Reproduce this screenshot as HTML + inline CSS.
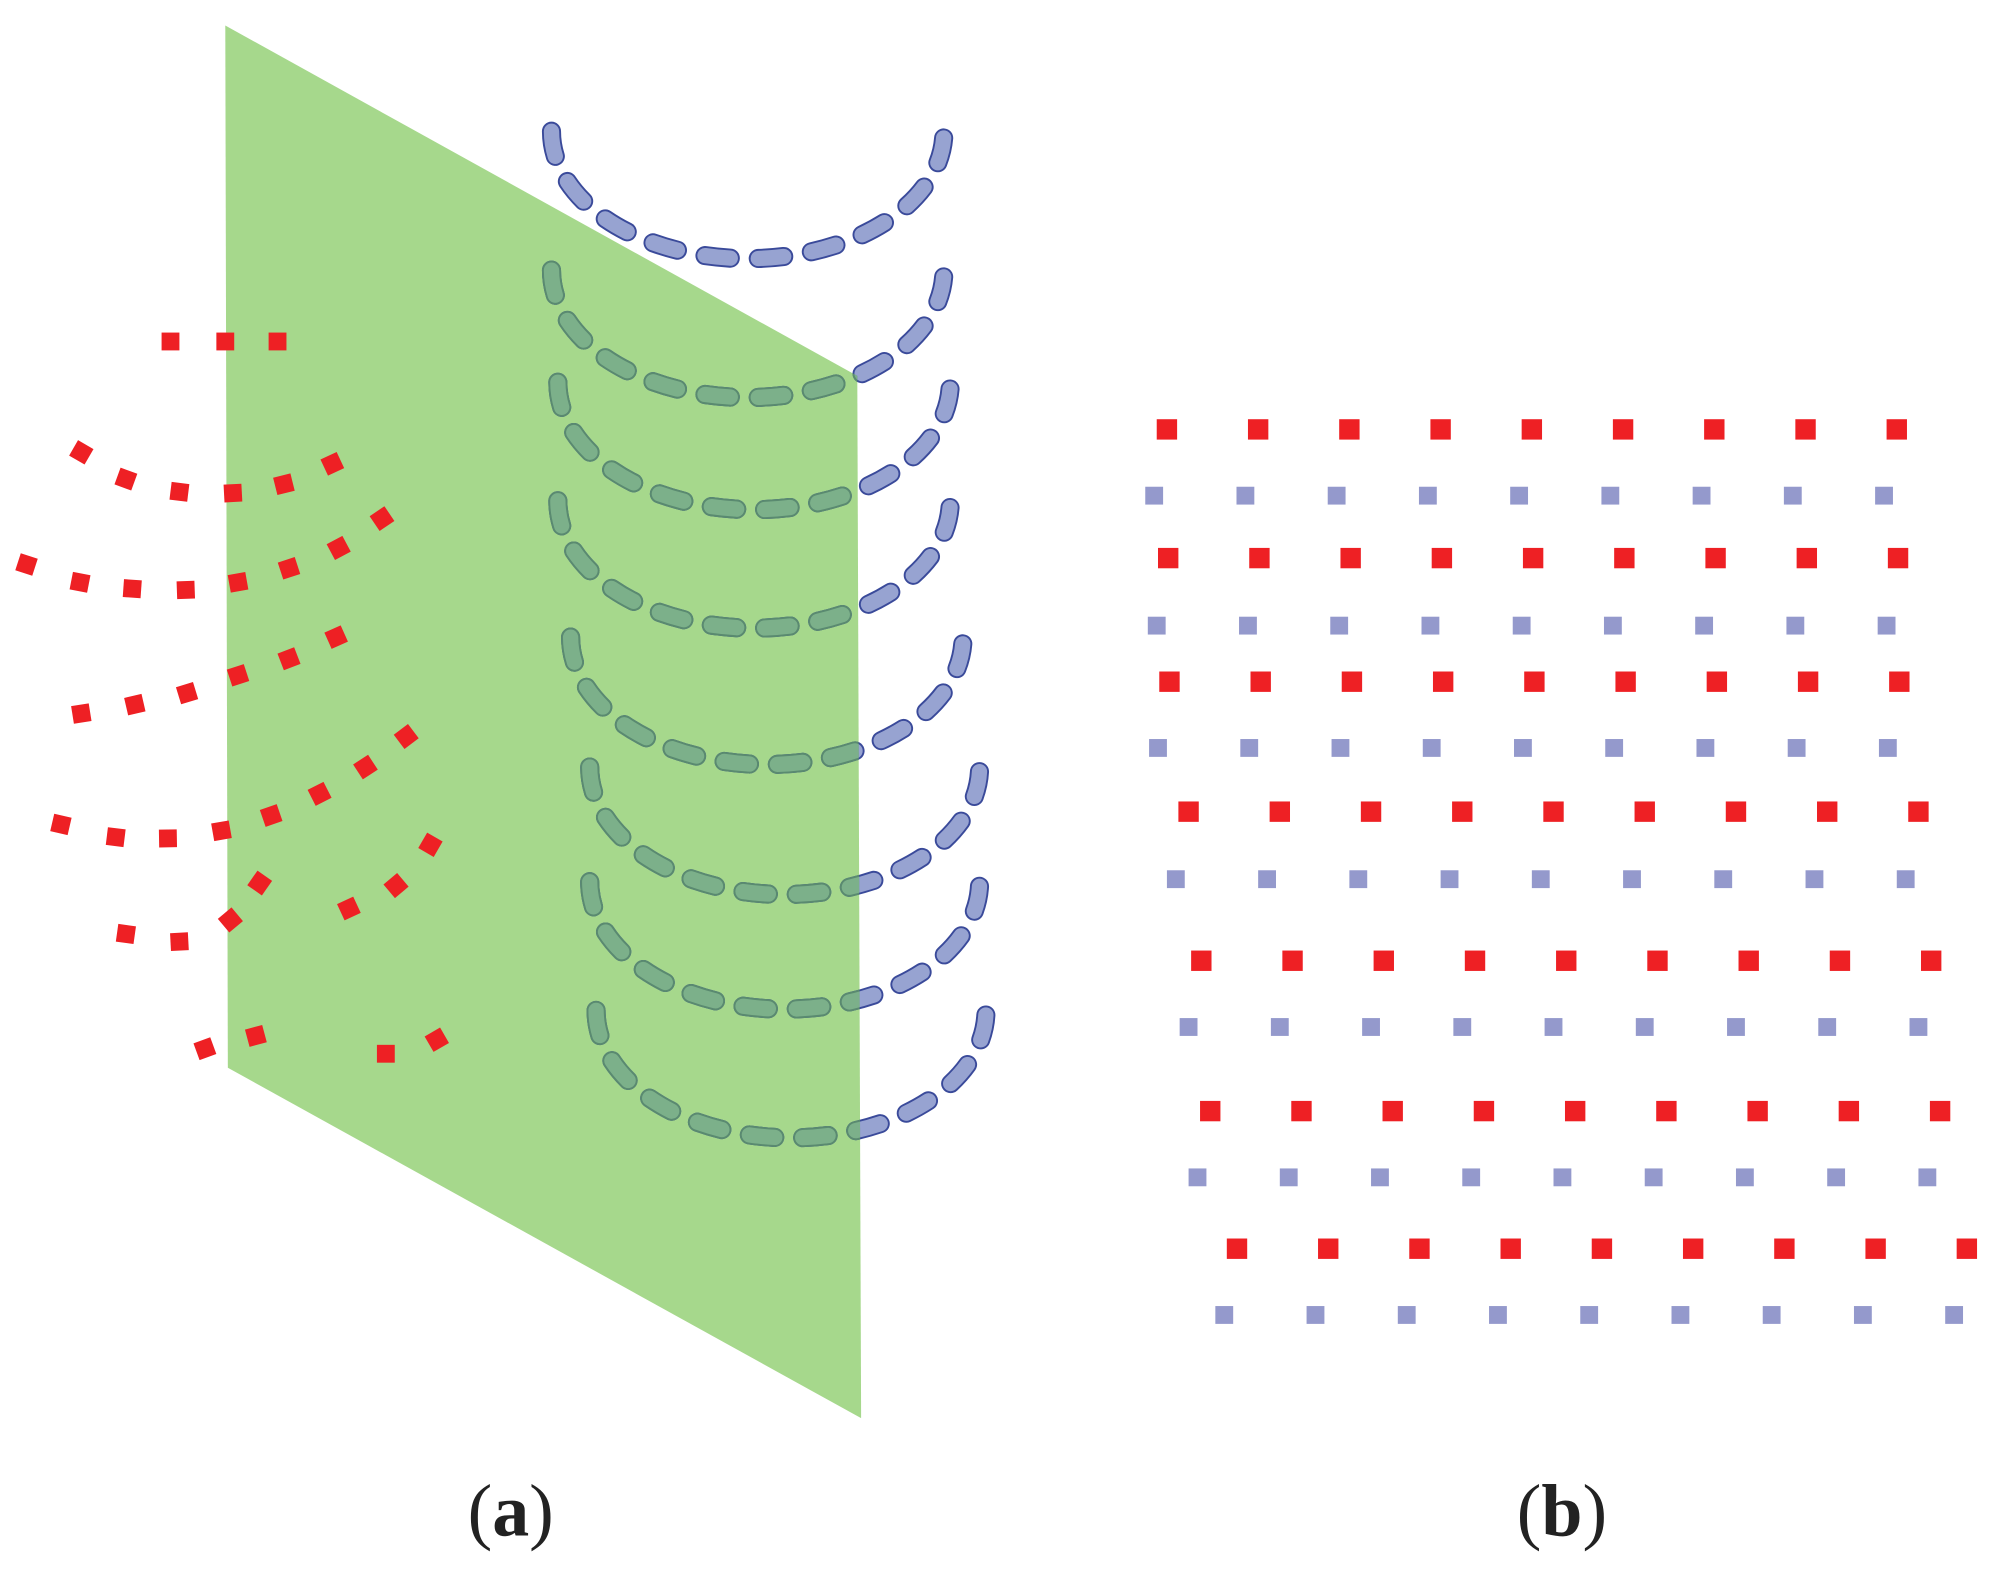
<!DOCTYPE html>
<html><head><meta charset="utf-8"><style>
html,body{margin:0;padding:0;background:#fff;}
svg{display:block;}
</style></head><body>
<svg width="2000" height="1580" viewBox="0 0 1568 1240" xmlns="http://www.w3.org/2000/svg">
<defs>
<clipPath id="pl"><polygon points="176,20 672,295 675,1113 178,838"/></clipPath>
<g id="arcs" fill="none" stroke-linecap="round">
<path d="M432,103 A154,100 0 0 0 740,103"/>
<path d="M432,212 A154,100 0 0 0 740,212"/>
<path d="M437,300 A154,100 0 0 0 745,300"/>
<path d="M437,393 A154,100 0 0 0 745,393"/>
<path d="M447,500 A154,100 0 0 0 755,500"/>
<path d="M462,602 A153,100 0 0 0 768,602"/>
<path d="M462,692 A153,100 0 0 0 768,692"/>
<path d="M467,793 A153,100 0 0 0 773,793"/>
</g>
<g id="rr" fill="#ee2024">
<rect x="-8" y="-8" width="16" height="16"/>
<rect x="63.6" y="-8" width="16" height="16"/>
<rect x="135.2" y="-8" width="16" height="16"/>
<rect x="206.8" y="-8" width="16" height="16"/>
<rect x="278.4" y="-8" width="16" height="16"/>
<rect x="350" y="-8" width="16" height="16"/>
<rect x="421.6" y="-8" width="16" height="16"/>
<rect x="493.2" y="-8" width="16" height="16"/>
<rect x="564.8" y="-8" width="16" height="16"/>
</g>
<g id="bb" fill="#9499cc">
<rect x="-7" y="-7" width="14" height="14"/>
<rect x="64.6" y="-7" width="14" height="14"/>
<rect x="136.2" y="-7" width="14" height="14"/>
<rect x="207.8" y="-7" width="14" height="14"/>
<rect x="279.4" y="-7" width="14" height="14"/>
<rect x="351" y="-7" width="14" height="14"/>
<rect x="422.6" y="-7" width="14" height="14"/>
<rect x="494.2" y="-7" width="14" height="14"/>
<rect x="565.8" y="-7" width="14" height="14"/>
</g>
<rect id="d" x="-7" y="-7" width="14" height="14"/>
</defs>
<polygon points="176,20 672,295 675,1113 178,838" fill="#a6d88c"/>
<use href="#arcs" stroke="#3a4a9a" stroke-width="15" stroke-dasharray="20 22"/>
<use href="#arcs" stroke="#97a3d1" stroke-width="12" stroke-dasharray="20 22"/>
<g clip-path="url(#pl)">
<use href="#arcs" stroke="#5a8a70" stroke-width="15" stroke-dasharray="20 22"/>
<use href="#arcs" stroke="#7cb08a" stroke-width="12" stroke-dasharray="20 22"/>
</g>
<g fill="#ee2024">
<use href="#d" transform="translate(133,268)"/>
<use href="#d" transform="translate(176,268)"/>
<use href="#d" transform="translate(217,268)"/>

<use href="#d" transform="translate(63,355) rotate(30)"/>
<use href="#d" transform="translate(98,376) rotate(20)"/>
<use href="#d" transform="translate(140,386) rotate(7)"/>
<use href="#d" transform="translate(182,387) rotate(-3)"/>
<use href="#d" transform="translate(222,380) rotate(-14)"/>
<use href="#d" transform="translate(260,364) rotate(-25)"/>

<use href="#d" transform="translate(20,443) rotate(18)"/>
<use href="#d" transform="translate(62,457) rotate(11)"/>
<use href="#d" transform="translate(103,462) rotate(4)"/>
<use href="#d" transform="translate(145,463) rotate(-2)"/>
<use href="#d" transform="translate(186,457) rotate(-10)"/>
<use href="#d" transform="translate(226,446) rotate(-18)"/>
<use href="#d" transform="translate(265,430) rotate(-28)"/>
<use href="#d" transform="translate(299,407) rotate(-34)"/>

<use href="#d" transform="translate(63,560) rotate(-9)"/>
<use href="#d" transform="translate(105,553) rotate(-13)"/>
<use href="#d" transform="translate(146,544) rotate(-17)"/>
<use href="#d" transform="translate(186,530) rotate(-18)"/>
<use href="#d" transform="translate(226,517) rotate(-21)"/>
<use href="#d" transform="translate(263,500) rotate(-24)"/>

<use href="#d" transform="translate(47,647) rotate(13)"/>
<use href="#d" transform="translate(90,657) rotate(7)"/>
<use href="#d" transform="translate(131,658) rotate(-1)"/>
<use href="#d" transform="translate(173,652) rotate(-10)"/>
<use href="#d" transform="translate(212,640) rotate(-19)"/>
<use href="#d" transform="translate(250,623) rotate(-27)"/>
<use href="#d" transform="translate(286,602) rotate(-33)"/>
<use href="#d" transform="translate(318,578) rotate(-37)"/>

<use href="#d" transform="translate(98,733) rotate(8)"/>
<use href="#d" transform="translate(140,739) rotate(-3)"/>
<use href="#d" transform="translate(180,722) rotate(-40)"/>
<use href="#d" transform="translate(203,693) rotate(-55)"/>
<use href="#d" transform="translate(273,713) rotate(-25)"/>
<use href="#d" transform="translate(310,695) rotate(-40)"/>
<use href="#d" transform="translate(337,663) rotate(-60)"/>

<use href="#d" transform="translate(160,823) rotate(-20)"/>
<use href="#d" transform="translate(200,813) rotate(-15)"/>
<use href="#d" transform="translate(302,827)"/>
<use href="#d" transform="translate(342,816) rotate(-30)"/>
</g>
<use href="#rr" transform="translate(915,337)"/>
<use href="#bb" transform="translate(905,389)"/>
<use href="#rr" transform="translate(916,438)"/>
<use href="#bb" transform="translate(907,491)"/>
<use href="#rr" transform="translate(917,535)"/>
<use href="#bb" transform="translate(908,587)"/>
<use href="#rr" transform="translate(932,637)"/>
<use href="#bb" transform="translate(922,690)"/>
<use href="#rr" transform="translate(942,754)"/>
<use href="#bb" transform="translate(932,806)"/>
<use href="#rr" transform="translate(949,872)"/>
<use href="#bb" transform="translate(939,924)"/>
<use href="#rr" transform="translate(970,980)"/>
<use href="#bb" transform="translate(960,1032)"/>
<text x="400" y="1205" text-anchor="middle" font-family="Liberation Serif, serif" font-size="58" fill="#222">(<tspan font-weight="bold">a</tspan>)</text>
<text x="1225" y="1205" text-anchor="middle" font-family="Liberation Serif, serif" font-size="58" fill="#222">(<tspan font-weight="bold">b</tspan>)</text>
</svg>
</body></html>
